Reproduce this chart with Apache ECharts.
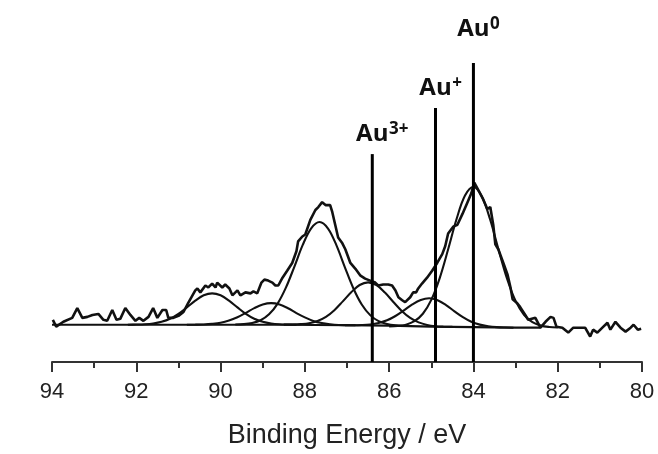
<!DOCTYPE html>
<html>
<head>
<meta charset="utf-8">
<style>
  html, body { margin: 0; padding: 0; background: #ffffff; }
  #chart { width: 658px; height: 454px; }
</style>
<script src="https://cdn.jsdelivr.net/npm/echarts@6/dist/echarts.min.js"></script>
</head>
<body>
<div id="chart"></div>
<script>
// Au 4f XPS region: measured spectrum, Shirley background and fitted doublets.

// Measured spectrum (binding energy in eV, intensity in arbitrary units)
const bindingEnergy = [
  93.98, 93.90, 93.73, 93.52, 93.40, 93.28, 93.16, 93.04, 92.90, 92.78,
  92.69, 92.57, 92.47, 92.38, 92.26, 92.14, 92.02, 91.93, 91.83, 91.71,
  91.60, 91.50, 91.38, 91.29, 91.24, 91.12, 91.00, 90.88, 90.77, 90.60,
  90.55, 90.48, 90.36, 90.29, 90.20, 90.12, 90.08, 89.96, 89.89, 89.79,
  89.72, 89.60, 89.53, 89.41, 89.29, 89.22, 89.13, 89.03, 88.96, 88.87,
  88.77, 88.70, 88.63, 88.53, 88.42, 88.30, 88.20, 88.16, 88.06, 87.99,
  87.87, 87.75, 87.68, 87.59, 87.51, 87.47, 87.40, 87.35, 87.28, 87.21,
  87.11, 87.04, 86.92, 86.80, 86.68, 86.57, 86.45, 86.33, 86.26, 86.14,
  86.02, 85.93, 85.85, 85.78, 85.69, 85.62, 85.50, 85.43, 85.36, 85.31,
  85.22, 85.10, 84.98, 84.86, 84.74, 84.67, 84.60, 84.48, 84.38, 84.26,
  84.14, 84.05, 83.98, 83.88, 83.77, 83.67, 83.60, 83.53, 83.48, 83.41,
  83.29, 83.19, 83.12, 83.07, 82.96, 82.89, 82.77, 82.70, 82.53, 82.41,
  82.29, 82.17, 82.10, 82.03, 81.89, 81.75, 81.63, 81.46, 81.35, 81.23,
  81.16, 81.06, 80.94, 80.82, 80.75, 80.63, 80.51, 80.39, 80.27, 80.20,
  80.10, 80.02
];
const counts = [
  43, 36, 41, 45, 55, 45, 46, 48, 49, 43,
  42, 53, 43, 44, 55, 48, 42, 45, 42, 46,
  55, 45, 53, 53, 45, 45, 47, 51, 60, 73,
  75, 71, 78, 76, 80, 76, 81, 76, 79, 75,
  68, 73, 68, 71, 70, 72, 70, 81, 84, 83,
  81, 78, 78, 86, 93, 101, 113, 123, 128, 130,
  145, 155, 158, 163, 160, 161, 160, 153, 140, 127,
  121, 115, 101, 95, 88, 85, 83, 81, 78, 79,
  79, 78, 73, 66, 63, 61, 66, 71, 71, 75,
  80, 86, 93, 101, 110, 118, 131, 138, 140, 151,
  163, 172, 183, 175, 166, 156, 158, 140, 120, 115,
  101, 89, 76, 64, 60, 56, 48, 43, 45, 35,
  41, 46, 45, 36, 35, 30, 35, 35, 35, 26,
  33, 30, 35, 40, 33, 41, 35, 31, 35, 38,
  33, 34
];

// Shirley background
const backgroundEnergy = [94.0, 88.5, 87.0, 86.0, 85.0, 84.0, 83.0, 82.4];
const backgroundCounts = [38, 38, 37.5, 37, 36, 35.5, 35, 35];

// Fitted components: each sampled every 0.2 eV from centre + 2.0 to centre - 2.0 eV
const fitOffsets = [2.0, 1.8, 1.6, 1.4, 1.2, 1.0, 0.8, 0.6, 0.4, 0.2, 0.0,
                    -0.2, -0.4, -0.6, -0.8, -1.0, -1.2, -1.4, -1.6, -1.8, -2.0];
const componentNames = ['Au0 4f7/2', 'Au0 4f5/2', 'Au+ 4f7/2', 'Au+ 4f5/2', 'Au3+ 4f7/2', 'Au3+ 4f5/2'];
const componentCentres = [84.00, 87.65, 85.05, 88.80, 86.50, 90.20];
const au0_4f72 = [36.2, 36.7, 38.1, 41.6, 49.2, 63.3, 85.6, 114.9, 145.8, 169.8, 178.5,
                  168.8, 144.8, 113.9, 84.6, 62.3, 48.2, 40.6, 37.1, 35.7, 35.2];
const au0_4f52 = [38.2, 38.6, 39.8, 42.6, 48.6, 59.3, 75.8, 97.1, 119.4, 136.3, 142.7,
                  136.1, 118.9, 96.6, 75.2, 58.6, 47.8, 41.7, 38.8, 37.4, 36.8];
const au1_4f72 = [37.5, 37.5, 37.7, 38.3, 39.8, 42.5, 46.9, 52.6, 58.7, 63.3, 65.0,
                  63.0, 58.1, 51.7, 45.7, 41.0, 38.1, 36.5, 35.6, 35.2, 35.0];
const au1_4f52 = [38.0, 38.1, 38.3, 38.9, 40.0, 42.2, 45.6, 50.1, 54.9, 58.6, 60.0,
                  58.6, 54.8, 49.9, 45.5, 41.9, 39.7, 38.5, 37.8, 37.6, 37.4];
const au3_4f72 = [38.1, 38.2, 38.6, 39.5, 41.8, 46.0, 52.8, 61.8, 71.1, 78.5, 81.2,
                  78.3, 70.8, 61.2, 52.0, 44.9, 40.4, 37.8, 36.5, 36.0, 35.8];
const au3_4f52 = [38.0, 38.2, 38.5, 39.3, 41.0, 44.1, 49.1, 55.7, 62.6, 68.0, 70.0,
                  68.0, 62.6, 55.7, 49.1, 44.1, 41.0, 39.3, 38.5, 38.2, 38.0];
const componentCounts = [au0_4f72, au0_4f52, au1_4f72, au1_4f52, au3_4f72, au3_4f52];

// Oxidation-state markers
const markerEnergy = [84.0, 84.9, 86.4];
const markerHeight = [305, 259, 212];
const markerIon = ['Au', 'Au', 'Au'];
const markerCharge = ['0', '+', '3+'];

// Axis ticks
const xMin = 80, xMax = 94, xStep = 2;
const xTitle = 'Binding Energy / eV';

const ink = '#111111';
const labelGap = [22, 8, 8];
const ionFont = 'bold 24px "Open Sans"';
const chargeFont = 'bold 17px "Open Sans"';

const measureCtx = document.createElement('canvas').getContext('2d');
function textWidth(str, font) {
  measureCtx.font = font;
  return measureCtx.measureText(str).width;
}

const pair = (xs, ys) => xs.map((x, i) => [x, ys[i]]);

const series = [];

series.push({
  name: 'Background',
  type: 'line',
  data: pair(backgroundEnergy, backgroundCounts),
  showSymbol: false,
  lineStyle: { color: ink, width: 2.2 },
  z: 2
});

componentCounts.forEach((vals, k) => {
  const energies = fitOffsets.map(o => +(componentCentres[k] + o).toFixed(2));
  series.push({
    name: componentNames[k],
    type: 'line',
    data: pair(energies, vals),
    showSymbol: false,
    smooth: 0.35,
    lineStyle: { color: ink, width: 2.1 },
    z: 3
  });
});

series.push({
  name: 'Measured',
  type: 'line',
  data: pair(bindingEnergy, counts),
  showSymbol: false,
  lineStyle: { color: ink, width: 2.6 },
  z: 4
});

series.push({
  name: 'Markers',
  type: 'custom',
  clip: false,
  data: markerEnergy.map((e, i) => [e, markerHeight[i]]),
  renderItem: function (params, api) {
    const i = params.dataIndex;
    const base = api.coord([api.value(0), 0]);
    const top = api.coord([api.value(0), api.value(1)]);
    const ionW = textWidth(markerIon[i], ionFont);
    const textBottom = top[1] - labelGap[i];
    return {
      type: 'group',
      children: [
        {
          type: 'line',
          shape: { x1: base[0], y1: base[1], x2: top[0], y2: top[1] },
          style: { stroke: '#000', lineWidth: 3 }
        },
        {
          type: 'text',
          style: {
            text: markerIon[i],
            x: top[0],
            y: textBottom,
            align: 'center',
            verticalAlign: 'bottom',
            font: ionFont,
            fill: '#111'
          }
        },
        {
          type: 'text',
          style: {
            text: markerCharge[i],
            x: top[0] + ionW / 2 + 0.5,
            y: textBottom - 25,
            align: 'left',
            verticalAlign: 'top',
            font: chargeFont,
            fill: '#111'
          }
        }
      ]
    };
  },
  z: 10
});

const chart = echarts.init(document.getElementById('chart'), null, { renderer: 'canvas' });
chart.setOption({
  animation: false,
  backgroundColor: '#ffffff',
  grid: { left: 52, right: 16, top: 58, bottom: 86 },
  xAxis: {
    type: 'value',
    inverse: true,
    min: xMin,
    max: xMax,
    interval: xStep,
    name: xTitle,
    nameLocation: 'middle',
    nameGap: 60,
    nameTextStyle: { fontFamily: 'Liberation Sans', fontSize: 27, color: '#222' },
    axisLine: { lineStyle: { color: '#333', width: 2 } },
    axisTick: { length: 10, lineStyle: { color: '#333', width: 2 } },
    minorTick: { show: true, splitNumber: 2, length: 6, lineStyle: { color: '#333', width: 2 } },
    splitLine: { show: false },
    minorSplitLine: { show: false },
    axisLabel: { fontFamily: 'Liberation Sans', fontSize: 22, color: '#222', margin: 19 }
  },
  yAxis: {
    type: 'value',
    min: 0,
    max: 310,
    show: false,
    splitLine: { show: false }
  },
  series: series
});
</script>
</body>
</html>
